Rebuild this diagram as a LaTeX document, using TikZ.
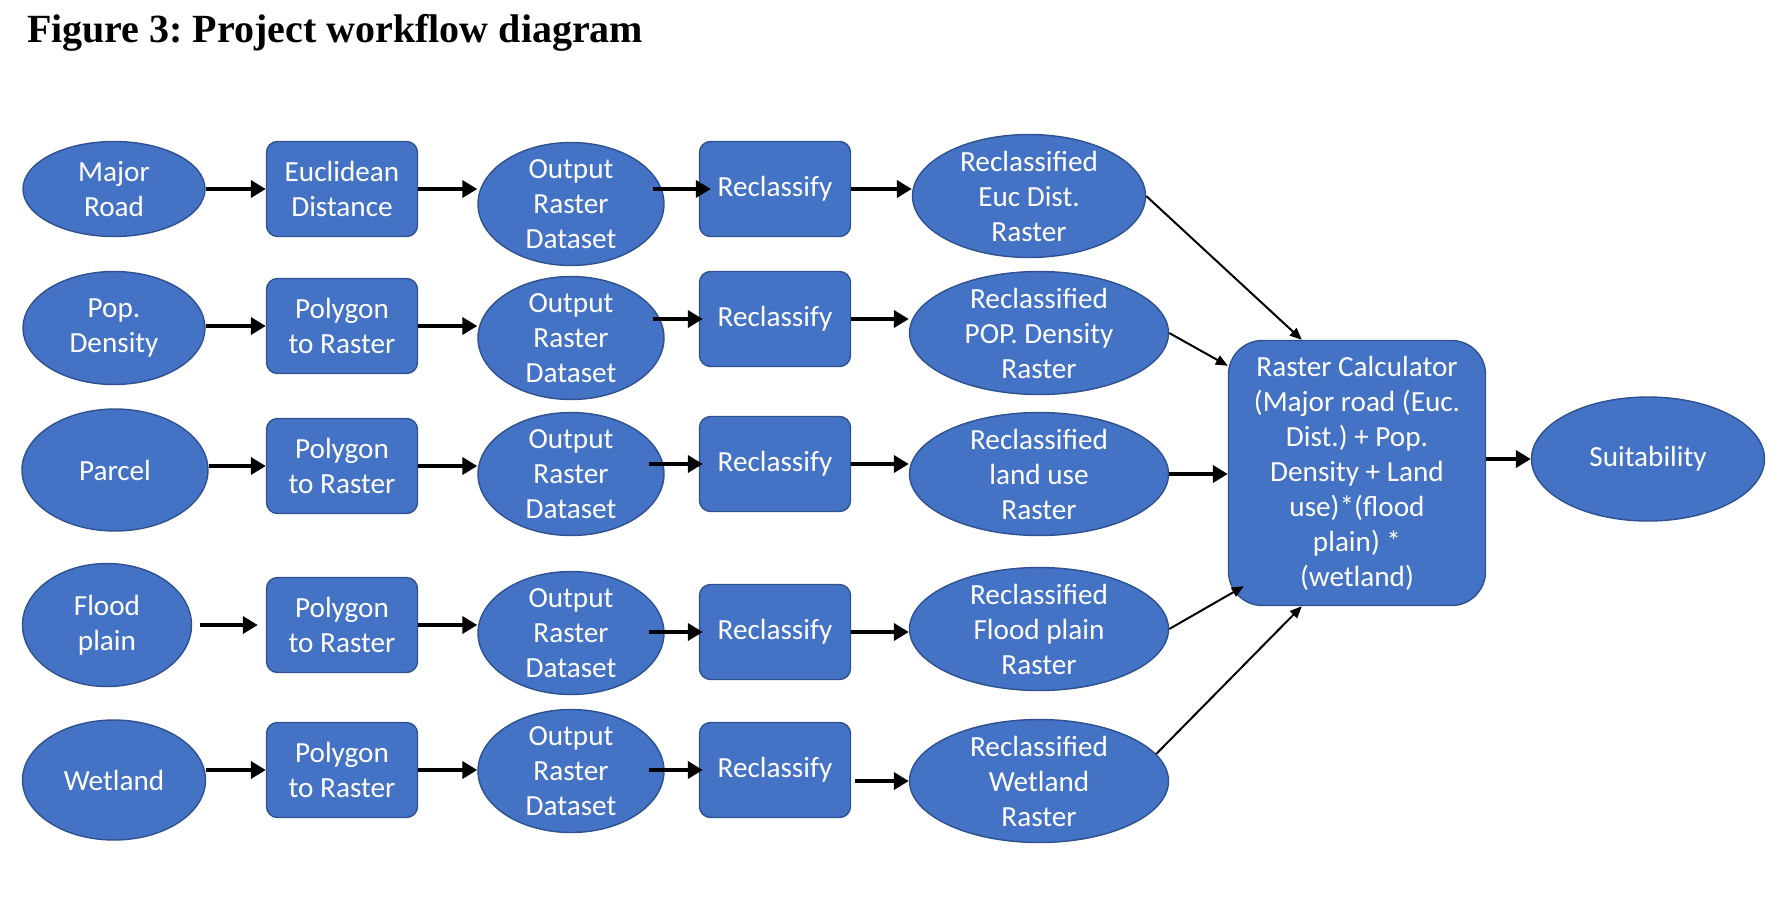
\documentclass[tikz,border=0pt]{standalone}
\usepackage{fontspec}
\usepackage{xcolor}
\usepackage{tikz}
\usetikzlibrary{shapes, arrows.meta, positioning, calc}

\setmainfont{Carlito}
\newfontfamily\titlefont{Liberation Serif}
\newcommand{\wf}{\fontsize{14.6}{17.5}\selectfont}
\frenchspacing

\definecolor{boxblue}{HTML}{4472C4}
\definecolor{edgeblue}{HTML}{2F528F}

\tikzset{
  oval/.style 2 args={ellipse, draw=edgeblue, fill=boxblue, line width=0.7pt,
    minimum width=#1, minimum height=#2, inner sep=0pt},
  procbox/.style={rectangle, rounded corners=5.5pt, draw=edgeblue, fill=boxblue,
    line width=0.7pt, minimum width=75.5pt, minimum height=47.5pt, inner sep=1pt,
    text=white, align=center, font=\wf},
  txt/.style={text=white, align=center, font=\wf},
  flow/.style={-{Triangle[length=7.5pt,width=8.5pt]}, line width=1.9pt},
  feed/.style={-{Triangle[length=6pt,width=5pt]}, line width=1pt}
}

\begin{document}
\begin{tikzpicture}[x=0.5pt, y=-0.5pt]
        \useasboundingbox (0,0) rectangle (1786,900);

        \node[anchor=base west, font=\titlefont\bfseries\fontsize{20}{24}\selectfont] (title) at (20,42) {Figure 3: Project workflow diagram};

        % Inputs
        \node[oval={91pt}{47.5pt}, label={[txt]center:Major\\Road}] (road) at (114,189) {};
        \node[oval={91pt}{56.5pt}, label={[txt]center:Pop.\\Density}] (pop) at (114,328) {};
        \node[oval={93pt}{61pt}, label={[txt]center:Parcel}] (parcel) at (115,470) {};
        \node[oval={84.5pt}{61.5pt}, label={[txt]center:Flood\\plain}] (flood) at (107,625) {};
        \node[oval={91.5pt}{60pt}, label={[txt]center:Wetland}] (wet) at (114,780) {};

        % Conversion tools
        \node[procbox] (euc) at (342,189) {Euclidean\\Distance};
        \node[procbox] (ptr2) at (342,326) {Polygon\\to Raster};
        \node[procbox] (ptr3) at (342,466) {Polygon\\to Raster};
        \node[procbox] (ptr4) at (342,625) {Polygon\\to Raster};
        \node[procbox] (ptr5) at (342,770) {Polygon\\to Raster};

        % Output rasters
        \node[oval={93pt}{61.5pt}, label={[txt]center:Output\\Raster\\Dataset}] (out1) at (571,204) {};
        \node[oval={93pt}{61.5pt}, label={[txt]center:Output\\Raster\\Dataset}] (out2) at (571,338) {};
        \node[oval={93pt}{61.5pt}, label={[txt]center:Output\\Raster\\Dataset}] (out3) at (571,474) {};
        \node[oval={93pt}{61.5pt}, label={[txt]center:Output\\Raster\\Dataset}] (out4) at (571,633) {};
        \node[oval={93pt}{61.5pt}, label={[txt]center:Output\\Raster\\Dataset}] (out5) at (571,771) {};

        % Reclassify
        \node[procbox] (rc1) at (775,189) {Reclassify};
        \node[procbox] (rc2) at (775,319) {Reclassify};
        \node[procbox] (rc3) at (775,464) {Reclassify};
        \node[procbox] (rc4) at (775,632) {Reclassify};
        \node[procbox] (rc5) at (775,770) {Reclassify};

        % Reclassified rasters
        \node[oval={116.5pt}{61.5pt}, label={[txt]center:Reclassified\\Euc Dist.\\Raster}] (eucr) at (1029,196) {};
        \node[oval={129.5pt}{61.5pt}, label={[txt]center:Reclassified\\POP. Density\\Raster}] (popr) at (1039,333) {};
        \node[oval={129.5pt}{61.5pt}, label={[txt]center:Reclassified\\land use\\Raster}] (landr) at (1039,474) {};
        \node[oval={129.5pt}{61.5pt}, label={[txt]center:Reclassified\\Flood plain\\Raster}] (floodr) at (1039,629) {};
        \node[oval={129.5pt}{61.5pt}, label={[txt]center:Reclassified\\Wetland\\Raster}] (wetr) at (1039,781) {};

        % Raster calculator and result
        \node[procbox, rounded corners=17pt, minimum width=128.5pt, minimum height=132.5pt] (calc) at (1357,473)
            {Raster Calculator\\(Major road (Euc.\\Dist.) + Pop.\\Density + Land\\use)*(flood\\plain) *\\(wetland)};
        \node[oval={116.5pt}{62pt}, label={[txt]center:Suitability}] (suit) at (1648,459) {};

        % Row arrows
        \draw[flow] (road.east |- euc) -- (euc.west);
        \draw[flow] (euc.east) -- (euc.east -| out1.west);
        \draw[flow] ($(out1.east |- rc1)+(-6pt,0)$) -- ($(rc1.west)+(6pt,0)$);
        \draw[flow] (rc1.east) -- (rc1.east -| eucr.west);

        \draw[flow] (pop.east |- ptr2) -- (ptr2.west);
        \draw[flow] (ptr2.east) -- (ptr2.east -| out2.west);
        \draw[flow] ($(out2.east |- rc2)+(-6pt,0)$) -- ($(rc2.west)+(2pt,0)$);
        \draw[flow] (rc2.east) -- (rc2.east -| popr.west);

        \draw[flow] (parcel.east |- ptr3) -- (ptr3.west);
        \draw[flow] (ptr3.east) -- (ptr3.east -| out3.west);
        \draw[flow] ($(out3.east |- rc3)+(-8pt,0)$) -- ($(rc3.west)+(2pt,0)$);
        \draw[flow] (rc3.east) -- (rc3.east -| landr.west);

        \draw[flow] ($(flood.east |- ptr4)+(4pt,0)$) -- ($(ptr4.west)+(-4pt,0)$);
        \draw[flow] (ptr4.east) -- (ptr4.east -| out4.west);
        \draw[flow] ($(out4.east |- rc4)+(-8pt,0)$) -- ($(rc4.west)+(2pt,0)$);
        \draw[flow] (rc4.east) -- (rc4.east -| floodr.west);

        \draw[flow] (wet.east |- ptr5) -- (ptr5.west);
        \draw[flow] (ptr5.east) -- (ptr5.east -| out5.west);
        \draw[flow] ($(out5.east |- rc5)+(-8pt,0)$) -- ($(rc5.west)+(2pt,0)$);
        \draw[flow] ($(rc5.east |- wetr)+(2pt,0)$) -- (wetr.west);

        % Into the calculator
        \draw[feed] (eucr.east) -- ([xshift=37pt]calc.north west);
        \draw[feed] (popr.east) -- ([yshift=-13pt]calc.north west);
        \draw[flow] (landr.east) -- (landr.east -| calc.west);
        \draw[feed] (floodr.east) -- ([xshift=8pt,yshift=10pt]calc.south west);
        \draw[feed] (wetr.13) -- ([xshift=37pt]calc.south west);
        \draw[flow] ([yshift=7pt]calc.east) -- (suit.west);

    \end{tikzpicture}
\end{document}
